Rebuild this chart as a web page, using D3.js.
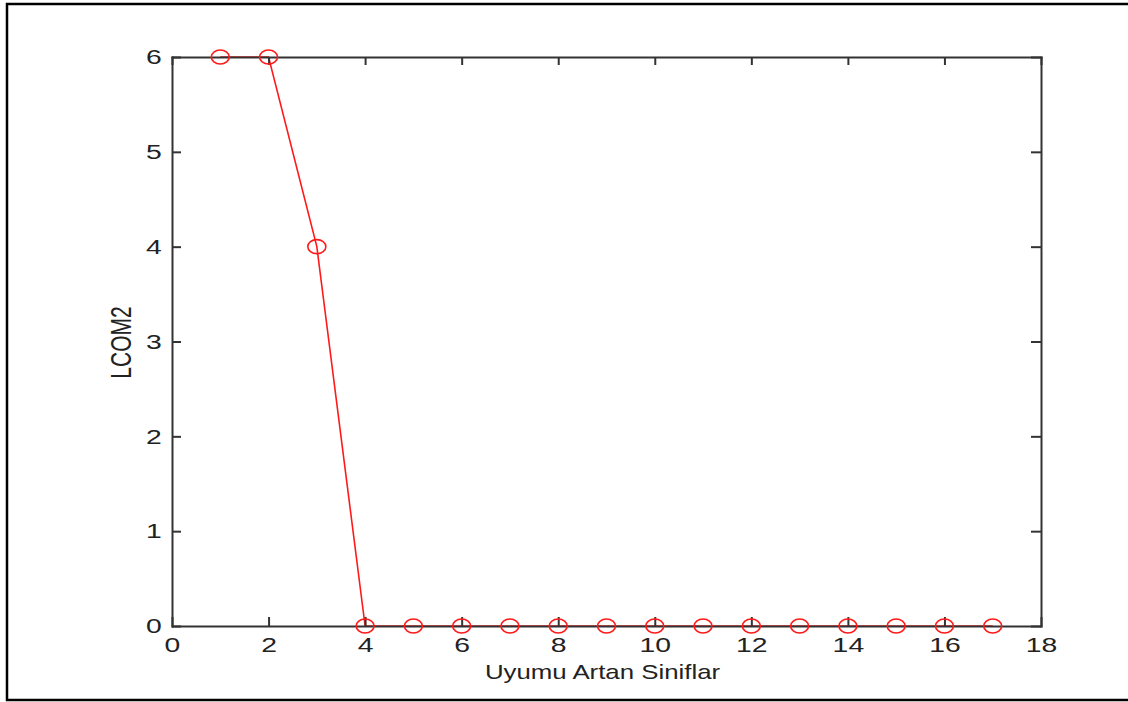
<!DOCTYPE html>
<html lang="en">
	<head>
		<meta charset="utf-8">
		<title>LCOM2</title>
		<script type="text/javascript" src="https://cdn.jsdelivr.net/npm/d3@7"></script>
		<style type="text/css">
			body { margin: 0; background: #fff; }
			text { font-family: "Liberation Sans", Arial, sans-serif; fill: #222; }
		</style>
	</head>
	<body>
		<script type="text/javascript">
			//Width and height
			var w = 1128;
			var h = 702;

			//data
			var classes = [1, 2, 3, 4, 5, 6, 7, 8, 9, 10, 11, 12, 13, 14, 15, 16, 17];
			var lcom2 = [6, 6, 4, 0, 0, 0, 0, 0, 0, 0, 0, 0, 0, 0, 0, 0, 0];
			var xTicks = [0, 2, 4, 6, 8, 10, 12, 14, 16, 18];
			var yTicks = [0, 1, 2, 3, 4, 5, 6];
			var xTitle = "Uyumu Artan Siniflar";
			var yTitle = "LCOM2";

			var data = classes.map(function(c, i) { return { x: c, y: lcom2[i] }; });

			//plot box (window.top is read only, so no "top" here)
			var boxLeft = 172, boxRight = 1041, boxTop = 57, boxBottom = 626;

			var x = d3.scaleLinear().domain([0, 18]).range([boxLeft, boxRight]);
			var y = d3.scaleLinear().domain([0, 6]).range([boxBottom, boxTop]);

			var svg = d3.select("body")
						.append("svg")
						.attr("width", w)
						.attr("height", h);

			//outer frame (left, top, bottom)
			svg.append("path")
			   .attr("d", "M" + w + ",4H7V700H" + w)
			   .attr("fill", "none")
			   .attr("stroke", "#000")
			   .attr("stroke-width", 2.5);

			//the red line first, axes go over it
			var line = d3.line()
						 .x(function(d) { return x(d.x); })
						 .y(function(d) { return y(d.y); });

			svg.append("path")
			   .datum(data)
			   .attr("d", line)
			   .attr("fill", "none")
			   .attr("stroke", "#ff1a1a")
			   .attr("stroke-width", 1.6);

			//axes, matlab style box with inward ticks
			var gx = svg.append("g")
						.attr("transform", "translate(0," + boxBottom + ")")
						.call(d3.axisBottom(x).tickValues(xTicks).tickFormat(d3.format("d"))
								.tickSize(-9).tickSizeOuter(0).tickPadding(11));

			var gy = svg.append("g")
						.attr("transform", "translate(" + boxLeft + ",0)")
						.call(d3.axisLeft(y).tickValues(yTicks).tickFormat(d3.format("d"))
								.tickSize(-9).tickSizeOuter(0).tickPadding(7.5));

			var gt = svg.append("g")
						.attr("transform", "translate(0," + boxTop + ")")
						.call(d3.axisTop(x).tickValues(xTicks).tickSize(-8).tickSizeOuter(0).tickFormat(""));

			var gr = svg.append("g")
						.attr("transform", "translate(" + boxRight + ",0)")
						.call(d3.axisRight(y).tickValues(yTicks).tickSize(-10).tickSizeOuter(0).tickFormat(""));

			[gx, gy, gt, gr].forEach(function(g) {
				g.selectAll("path, line")
				 .attr("stroke", "#333")
				 .attr("stroke-width", 2);
			});

			//tick labels look wide in the picture
			gx.selectAll("text")
			  .style("font-size", "21px")
			  .attr("fill", "#222")
			  .attr("transform", "scale(1.35,1)");
			gy.selectAll("text")
			  .style("font-size", "21px")
			  .attr("fill", "#222")
			  .attr("transform", "scale(1.35,1)");
			svg.selectAll(".domain").attr("stroke-linecap", "square");

			//markers
			svg.selectAll("ellipse")
			   .data(data)
			   .enter()
			   .append("ellipse")
			   .attr("cx", function(d) { return x(d.x); })
			   .attr("cy", function(d) { return y(d.y); })
			   .attr("rx", 9)
			   .attr("ry", 7)
			   .attr("fill", "none")
			   .attr("stroke", "#ff1a1a")
			   .attr("stroke-width", 1.6);

			//axis titles
			svg.append("text")
			   .attr("transform", "translate(" + ((boxLeft + boxRight) / 2 - 4) + ",679) scale(1.23,1)")
			   .attr("text-anchor", "middle")
			   .style("font-size", "21px")
			   .text(xTitle);

			svg.append("text")
			   .attr("transform", "translate(131," + ((boxTop + boxBottom) / 2 + 1) + ") scale(1.4,1) rotate(-90)")
			   .attr("text-anchor", "middle")
			   .style("font-size", "21px")
			   .text(yTitle);
		</script>
	</body>
</html>
